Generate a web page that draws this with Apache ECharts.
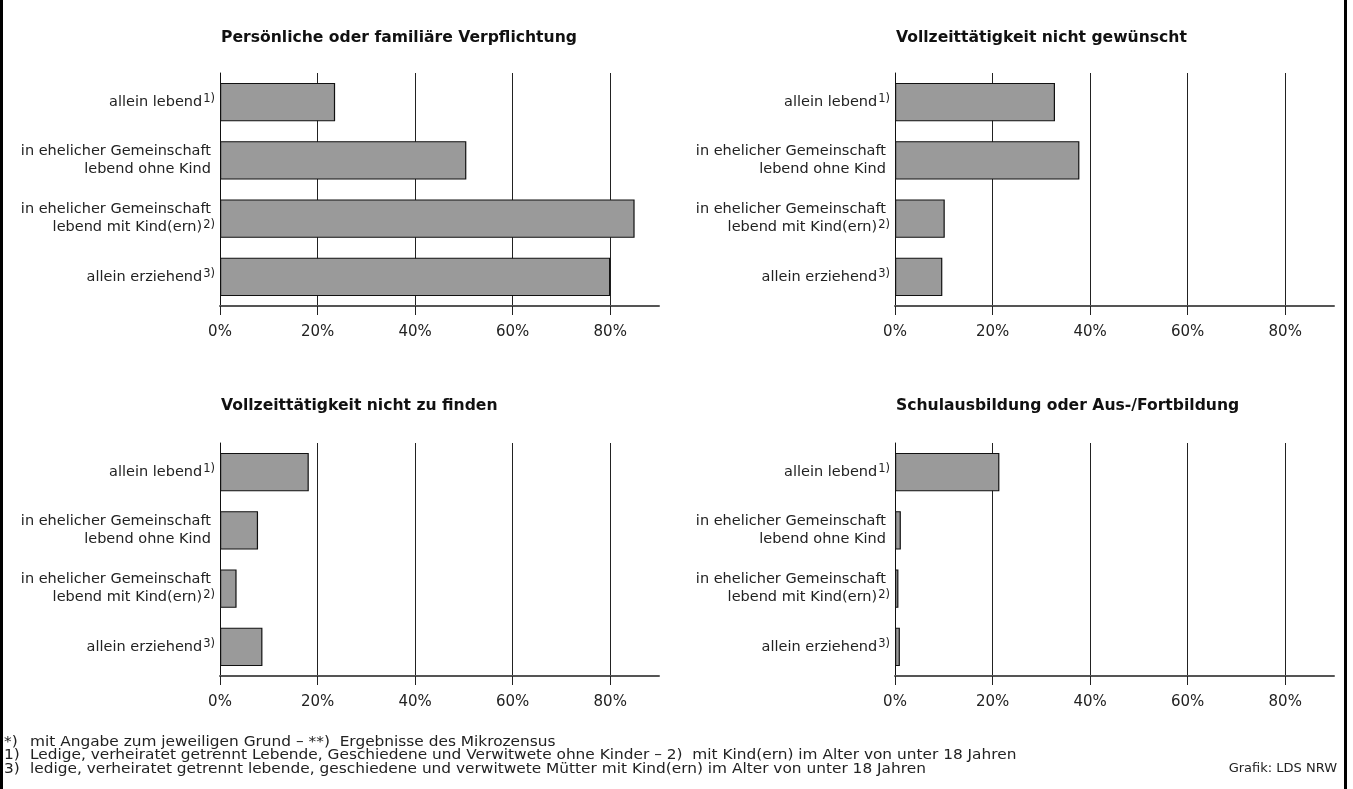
<!DOCTYPE html>
<html>
<head>
<meta charset="utf-8">
<script src="https://cdn.jsdelivr.net/npm/echarts@6/dist/echarts.min.js"></script>
<style>
html,body{margin:0;padding:0;background:#fff;}
#chart{width:1353px;height:789px;}
</style>
</head>
<body>
<div id="chart"></div>
<script>
// ---- data ----
const categories = [
  'allein lebend',
  'in ehelicher Gemeinschaft\nlebend ohne Kind',
  'in ehelicher Gemeinschaft\nlebend mit Kind(ern)',
  'allein erziehend'
];
const categoryNotes = ['1)', '', '2)', '3)'];
const panelTitles = [
  'Persönliche oder familiäre Verpflichtung',
  'Vollzeittätigkeit nicht gewünscht',
  'Vollzeittätigkeit nicht zu finden',
  'Schulausbildung oder Aus-/Fortbildung'
];
const valuesVerpflichtung = [23.6, 50.5, 85.0, 80.0];
const valuesNichtGewuenscht = [32.8, 37.8, 10.2, 9.7];
const valuesNichtZuFinden = [18.2, 7.8, 3.4, 8.7];
const valuesAusbildung = [21.4, 1.2, 0.7, 1.0];
const tickValues = [0, 20, 40, 60, 80];
const axisMax = 90;
const footnoteMarks = ['*)', '1)', '3)'];
const footnoteTexts = [
  'mit Angabe zum jeweiligen Grund – **)  Ergebnisse des Mikrozensus',
  'Ledige, verheiratet getrennt Lebende, Geschiedene und Verwitwete ohne Kinder – 2)  mit Kind(ern) im Alter von unter 18 Jahren',
  'ledige, verheiratet getrennt lebende, geschiedene und verwitwete Mütter mit Kind(ern) im Alter von unter 18 Jahren'
];
const sourceText = 'Grafik: LDS NRW';

// ---- layout ----
const FONT = 'DejaVu Sans';
const seriesValues = [valuesVerpflichtung, valuesNichtGewuenscht, valuesNichtZuFinden, valuesAusbildung];
const gridPos = [
  {left: 220, top: 73, titleTop: 29.5},
  {left: 895, top: 73, titleTop: 29.5},
  {left: 220, top: 443, titleTop: 398},
  {left: 895, top: 443, titleTop: 398}
];
const GW = 439, GH = 233;

function labelFormatter(value, idx) {
  const note = categoryNotes[idx];
  const lines = value.split('\n');
  return lines.map((ln, i) => {
    const last = i === lines.length - 1;
    if (last && note) return '{t|' + ln + '}{s|' + note + '}';
    return '{p|' + ln + '}';
  }).join('\n');
}

const grids = [], xAxes = [], yAxes = [], series = [], titles = [];
gridPos.forEach((g, i) => {
  grids.push({left: g.left, top: g.top, width: GW, height: GH, containLabel: false});
  titles.push({
    text: panelTitles[i], left: g.left + 1, top: g.titleTop, padding: 0,
    textStyle: {fontFamily: FONT, fontSize: 15.6, fontWeight: 'bold', color: '#111'}
  });
  xAxes.push({
    type: 'value', gridIndex: i, min: 0, max: axisMax, interval: 20,
    axisLine: {show: true, lineStyle: {color: '#555', width: 2}},
    axisTick: {show: true, length: 9, inside: false, customValues: tickValues, lineStyle: {color: '#222', width: 1}},
    axisLabel: {customValues: tickValues, formatter: v => v + '%', margin: 19,
      fontFamily: FONT, fontSize: 15, color: '#222'},
    splitLine: {show: true, lineStyle: {color: '#222', width: 1}}
  });
  yAxes.push({
    type: 'category', gridIndex: i, data: categories, inverse: true,
    axisLine: {show: true, lineStyle: {color: '#111', width: 1}},
    axisTick: {show: false},
    axisLabel: {
      margin: 5, formatter: labelFormatter, align: 'right',
      rich: {
        t: {fontFamily: FONT, fontSize: 14.5, lineHeight: 18, color: '#222'},
        p: {fontFamily: FONT, fontSize: 14.5, lineHeight: 18, color: '#222', padding: [0, 4, 0, 0]},
        s: {fontFamily: FONT, fontSize: 11.5, lineHeight: 1, verticalAlign: 'top', color: '#222', padding: [0, 0, 0, 1]}
      }
    }
  });
  series.push({
    type: 'bar', xAxisIndex: i, yAxisIndex: i, data: seriesValues[i],
    barWidth: '66%', silent: true,
    itemStyle: {color: '#9a9a9a', borderColor: '#111', borderWidth: 1.2}
  });
});

const graphics = [
  {type: 'rect', shape: {x: 0, y: 0, width: 3, height: 789}, style: {fill: '#000'}},
  {type: 'rect', shape: {x: 1344, y: 0, width: 3, height: 789}, style: {fill: '#000'}}
];
const footY = [742, 755.5, 769];
const FOOTFONT = '13.6px "' + FONT + '"';
footnoteMarks.forEach((m, i) => {
  graphics.push({type: 'text', x: 4, y: footY[i], scaleX: 1.13, style: {text: m, font: FOOTFONT, fill: '#222', textVerticalAlign: 'middle'}});
  graphics.push({type: 'text', x: 30, y: footY[i], scaleX: 1.13, style: {text: footnoteTexts[i], font: FOOTFONT, fill: '#222', textVerticalAlign: 'middle'}});
});
graphics.push({type: 'text', x: 1337, y: 769, style: {text: sourceText, font: '13px "' + FONT + '"', fill: '#222', textAlign: 'right', textVerticalAlign: 'middle'}});

const chart = echarts.init(document.getElementById('chart'), null, {renderer: 'canvas'});
chart.setOption({
  backgroundColor: '#fff',
  animation: false,
  title: titles,
  grid: grids,
  xAxis: xAxes,
  yAxis: yAxes,
  series: series,
  graphic: graphics
});
</script>
</body>
</html>
